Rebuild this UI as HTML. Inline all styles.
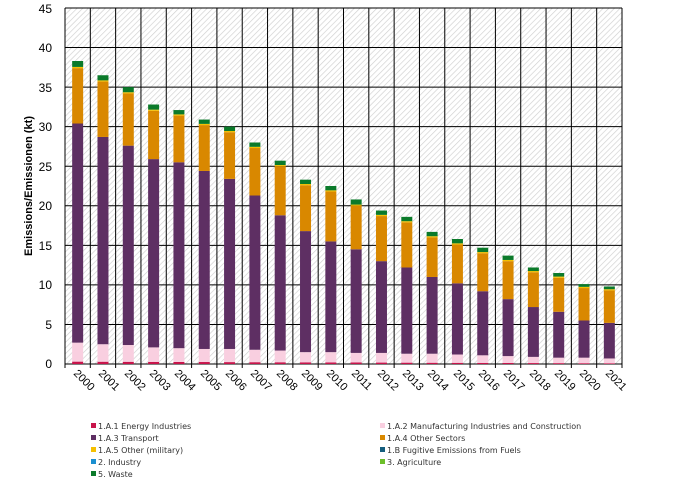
<!DOCTYPE html>
<html><head><meta charset="utf-8"><style>
body{margin:0;background:#fff;}
text{font-family:"Liberation Sans",sans-serif;}
.lg text{font-family:"DejaVu Sans",sans-serif;}
</style></head><body>
<svg id="s" width="677" height="486" viewBox="0 0 677 486" xmlns="http://www.w3.org/2000/svg">
<defs>
<pattern id="h" width="4" height="4" patternUnits="userSpaceOnUse" patternTransform="rotate(45)">
<rect width="4" height="4" fill="#fff"/><line x1="0" y1="0" x2="0" y2="4" stroke="#cfcfcf" stroke-width="1.3"/>
</pattern>
</defs>
<rect x="65" y="8" width="557" height="356" fill="url(#h)"/>
<g id="grid" stroke="#000" stroke-width="1"></g>
<g id="bars"></g>
<g font-size="12" text-anchor="end" fill="#000">
<text x="52" y="368">0</text><text x="52" y="329">5</text><text x="52" y="289">10</text><text x="52" y="250">15</text><text x="52" y="210">20</text><text x="52" y="171">25</text><text x="52" y="131">30</text><text x="52" y="92">35</text><text x="52" y="52">40</text><text x="52" y="13">45</text>
</g>
<text transform="translate(32,186) rotate(-90)" font-size="11" font-weight="bold" text-anchor="middle">Emissions/Emissionen (kt)</text>
<g font-size="11" id="xl">
<text transform="translate(73,374) rotate(45)">2000</text>
<text transform="translate(98,374) rotate(45)">2001</text>
<text transform="translate(124,374) rotate(45)">2002</text>
<text transform="translate(149,374) rotate(45)">2003</text>
<text transform="translate(174,374) rotate(45)">2004</text>
<text transform="translate(200,374) rotate(45)">2005</text>
<text transform="translate(225,374) rotate(45)">2006</text>
<text transform="translate(250,374) rotate(45)">2007</text>
<text transform="translate(276,374) rotate(45)">2008</text>
<text transform="translate(301,374) rotate(45)">2009</text>
<text transform="translate(326,374) rotate(45)">2010</text>
<text transform="translate(351,374) rotate(45)">2011</text>
<text transform="translate(377,374) rotate(45)">2012</text>
<text transform="translate(402,374) rotate(45)">2013</text>
<text transform="translate(427,374) rotate(45)">2014</text>
<text transform="translate(453,374) rotate(45)">2015</text>
<text transform="translate(478,374) rotate(45)">2016</text>
<text transform="translate(503,374) rotate(45)">2017</text>
<text transform="translate(529,374) rotate(45)">2018</text>
<text transform="translate(554,374) rotate(45)">2019</text>
<text transform="translate(579,374) rotate(45)">2020</text>
<text transform="translate(605,374) rotate(45)">2021</text>
</g>
<g font-size="8" fill="#333" class="lg">
<rect x="91" y="423" width="5" height="5" fill="#c8144b"/><text x="98" y="429">1.A.1 Energy Industries</text>
<rect x="91" y="435" width="5" height="5" fill="#5e2f63"/><text x="98" y="441">1.A.3 Transport</text>
<rect x="91" y="447" width="5" height="5" fill="#f5c000"/><text x="98" y="453">1.A.5 Other (military)</text>
<rect x="91" y="459" width="5" height="5" fill="#1a8fd0"/><text x="98" y="465">2. Industry</text>
<rect x="91" y="471" width="5" height="5" fill="#0b7a2a"/><text x="98" y="477">5. Waste</text>
<rect x="380" y="423" width="5" height="5" fill="#f9cfe0"/><text x="387" y="429">1.A.2 Manufacturing Industries and Construction</text>
<rect x="380" y="435" width="5" height="5" fill="#d98800"/><text x="387" y="441">1.A.4 Other Sectors</text>
<rect x="380" y="447" width="5" height="5" fill="#155e7e"/><text x="387" y="453">1.B Fugitive Emissions from Fuels</text>
<rect x="380" y="459" width="5" height="5" fill="#6cbf2a"/><text x="387" y="465">3. Agriculture</text>
</g>
</svg>
<script>
var ns="http://www.w3.org/2000/svg",g=document.getElementById('grid'),b=document.getElementById('bars');
function el(p,t,a){var e=document.createElementNS(ns,t);for(var k in a)e.setAttribute(k,a[k]);p.appendChild(e);return e;}
var L=65,R=622,T=8,B=364,k=(B-T)/45,w=(R-L)/22;
for(var i=0;i<=9;i++){var y=B-i*5*k;el(g,'line',{x1:L,x2:R,y1:y,y2:y});}
for(var i=0;i<=22;i++){var x=L+i*w;el(g,'line',{x1:x,x2:x,y1:T,y2:B+4});}
var d=[[2.7,30.4,37.4,38.3],[2.5,28.7,35.7,36.5],[2.4,27.6,34.2,35.0],[2.1,25.9,32.0,32.8],[2.0,25.5,31.4,32.1],[1.9,24.4,30.2,30.9],[1.9,23.4,29.3,30.0],[1.8,21.3,27.3,28.0],[1.7,18.8,25.0,25.7],[1.5,16.8,22.6,23.3],[1.5,15.5,21.8,22.5],[1.4,14.5,20.0,20.8],[1.4,13.0,18.7,19.4],[1.3,12.2,17.9,18.6],[1.3,11.0,16.0,16.7],[1.2,10.2,15.1,15.8],[1.1,9.2,14.0,14.7],[1.0,8.2,13.0,13.7],[0.9,7.2,11.6,12.2],[0.8,6.6,10.9,11.5],[0.8,5.5,9.6,10.1],[0.7,5.2,9.3,9.8]];
d.forEach(function(r,i){var cx=L+w*(i+0.5),x=cx-5.5,bw=11;
var e=0.3-i*0.01;
var segs=[[0,e,'#c8144b'],[e,r[0],'#f9cfe0'],[r[0],r[1],'#5e2f63'],[r[1],r[2],'#d98800'],[r[2],r[2]+0.15,'#f5c000'],[r[2]+0.15,r[3],'#0b7a2a']];
segs.forEach(function(s){var y1=B-s[1]*k,y0=B-s[0]*k;el(b,'rect',{x:x,y:y1,width:bw,height:Math.max(0,y0-y1),fill:s[2]});});
});
</script>
</body></html>
